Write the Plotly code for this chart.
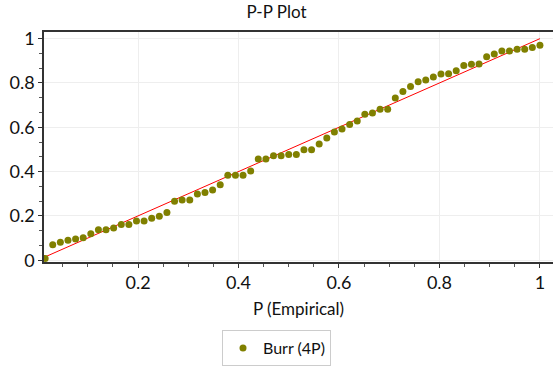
import plotly.graph_objects as go

# Empirical cumulative probabilities (i/n) and fitted Burr (4P) CDF values
n_points = 66
p_empirical = [i / n_points for i in range(1, n_points + 1)]
p_theoretical = [
    0.008, 0.070, 0.081, 0.090, 0.096, 0.102, 0.120, 0.138, 0.138, 0.145,
    0.161, 0.161, 0.177, 0.177, 0.189, 0.198, 0.215, 0.266, 0.272, 0.272,
    0.299, 0.306, 0.317, 0.341, 0.384, 0.384, 0.384, 0.403, 0.457, 0.457,
    0.471, 0.472, 0.477, 0.477, 0.499, 0.499, 0.525, 0.552, 0.579, 0.592,
    0.613, 0.628, 0.659, 0.664, 0.681, 0.681, 0.732, 0.761, 0.784, 0.805,
    0.813, 0.827, 0.841, 0.842, 0.855, 0.879, 0.885, 0.886, 0.918, 0.931,
    0.944, 0.944, 0.952, 0.952, 0.960, 0.970,
]
series_name = "Burr (4P)"
ref_line = [p_empirical[0], 1.0]

FONT = "Lato, Carlito, 'Open Sans', sans-serif"

fig = go.Figure()
fig.add_trace(go.Scatter(
    x=ref_line, y=ref_line, mode="lines",
    line=dict(color="#ff0000", width=1),
    showlegend=False, hoverinfo="skip",
))
fig.add_trace(go.Scatter(
    x=p_empirical, y=p_theoretical, mode="markers",
    name=series_name,
    marker=dict(color="#808000", size=7, line=dict(width=0)),
))

axis_common = dict(
    showgrid=True, gridcolor="#eeeeee", gridwidth=1,
    zeroline=False, automargin=False,
    showline=True, linecolor="#333333", linewidth=1.5,
    ticks="outside", ticklen=4, tickcolor="#333333",
    tickfont=dict(family=FONT, size=18, color="#111111"),
)

fig.update_layout(
    width=553, height=366,
    margin=dict(l=44, r=0, t=32, b=104, autoexpand=False),
    paper_bgcolor="white", plot_bgcolor="white",
    title=dict(text="P-P Plot", x=0.5, xref="container", xanchor="center",
               y=0.967, yanchor="middle",
               font=dict(family=FONT, size=17, color="#111111")),
    xaxis=dict(
        **axis_common,
        range=[0.0129, 1.026],
        tickvals=[0.2, 0.4, 0.6, 0.8, 1.0],
        ticktext=["0.2", "0.4", "0.6", "0.8", "1"],
        mirror=True,
        minor=dict(dtick=0.05, tick0=0, ticks="outside", ticklen=3,
                   tickcolor="#555555", showgrid=False),
        title=dict(text="P (Empirical)", standoff=11,
                   font=dict(family=FONT, size=17, color="#111111")),
    ),
    yaxis=dict(
        **axis_common,
        range=[-0.008, 1.03],
        tickvals=[0, 0.2, 0.4, 0.6, 0.8, 1.0],
        ticktext=["0", "0.2", "0.4", "0.6", "0.8", "1"],
        minor=dict(dtick=0.2 / 3, tick0=0, ticks="outside", ticklen=3,
                   tickcolor="#555555", showgrid=False),
    ),
    legend=dict(
        orientation="h", x=0.5, xref="container", xanchor="center",
        y=0.0, yref="container", yanchor="bottom",
        bordercolor="#cccccc", borderwidth=1,
        font=dict(family=FONT, size=16, color="#111111"),
        itemwidth=30,
    ),
)

fig.write_html("out.html")
